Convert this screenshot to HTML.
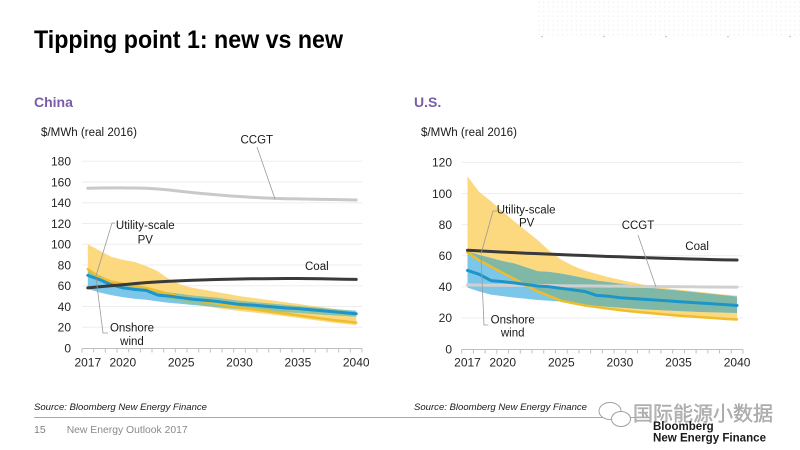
<!DOCTYPE html>
<html><head><meta charset="utf-8"><style>
html,body{margin:0;padding:0;background:#fff;}
svg{display:block;}
text{font-family:"Liberation Sans",Arial,sans-serif;}
</style></head><body>
<svg width="800" height="450" viewBox="0 0 800 450" xmlns="http://www.w3.org/2000/svg">
<defs>
<pattern id="dots" width="4.65" height="4.65" patternUnits="userSpaceOnUse" x="537" y="0">
<rect x="1.6" y="1.6" width="1" height="1" fill="#e4e4e4"/>
</pattern>
<clipPath id="clipYC"><path d="M0,100 L1,94 2,88 3,85 4,83 5,79 6,74 7,66 8,61 9,58 10,56 11,54 12,52 13,50 14,48.5 15,47 16,45.5 17,44 18,42.5 19,41 20,39.5 21,38 22,36.5 23,35 L23,22 22,23.3 21,24.5 20,26 19,27.5 18,29 17,30.5 16,32 15,33.3 14,34.5 13,35.5 12,37 11,38.5 10,40.5 9,42.5 8,44.5 7,47 6,50 5,54 4,57 3,59.5 2,61.5 1,65 0,72 Z"/></clipPath>
<clipPath id="clipYU"><path d="M0,111 L1,101 2,95 3,88.5 4,82 5,76 6,70 7,63 8,57.5 9,53.5 10,50.5 11,48.3 12,46.3 13,44.5 14,43 15,41.5 16,40 17,39 18,38.2 19,37.4 20,36.6 21,35.8 22,35 23,34.3 L23,18.5 22,18.9 21,19.4 20,19.9 19,20.5 18,21 17,21.6 16,22.3 15,23 14,23.7 13,24.5 12,25.5 11,26.5 10,27.5 9,29 8,30.5 7,33.5 6,36.5 5,40.5 4,44.5 3,48.5 2,52.5 1,56.5 0,61.5 Z"/></clipPath>
</defs>

<!-- top-right dot pattern -->
<rect x="537" y="0" width="263" height="38" fill="url(#dots)"/>
<g fill="#b5b5b5">
<circle cx="542" cy="36.5" r="0.8"/><circle cx="604" cy="36.5" r="0.8"/><circle cx="666" cy="36.5" r="0.8"/><circle cx="728" cy="36.5" r="0.8"/><circle cx="790" cy="36.5" r="0.8"/>
</g>

<!-- Title -->
<text x="34" y="48" font-size="25" font-weight="bold" fill="#000" textLength="309" lengthAdjust="spacingAndGlyphs">Tipping point 1: new vs new</text>

<text x="34" y="107" font-size="14" font-weight="bold" fill="#7a5ca8">China</text>
<text x="414" y="107" font-size="14" font-weight="bold" fill="#7a5ca8">U.S.</text>

<text x="41" y="136" font-size="11.5" fill="#1a1a1a" textLength="96" lengthAdjust="spacingAndGlyphs">$/MWh (real 2016)</text>
<text x="421" y="136" font-size="11.5" fill="#1a1a1a" textLength="96" lengthAdjust="spacingAndGlyphs">$/MWh (real 2016)</text>

<!-- ================= CHINA ================= -->
<g stroke="#ededed" stroke-width="1">
<path d="M82,327.25H362M82,306.5H362M82,285.75H362M82,265H362M82,244.25H362M82,223.5H362M82,202.75H362M82,182H362M82,161.25H362"/>
</g>
<g font-size="12" fill="#262626" text-anchor="end">
<text x="71" y="352.5">0</text><text x="71" y="331.6">20</text><text x="71" y="310.8">40</text><text x="71" y="290">60</text><text x="71" y="269.3">80</text><text x="71" y="248.5">100</text><text x="71" y="227.8">120</text><text x="71" y="207">140</text><text x="71" y="186.3">160</text><text x="71" y="165.5">180</text>
</g>
<g font-size="12" fill="#262626" text-anchor="middle">
<text x="87.8" y="366.5">2017</text><text x="122.8" y="366.5">2020</text><text x="181.2" y="366.5">2025</text><text x="239.5" y="366.5">2030</text><text x="297.9" y="366.5">2035</text><text x="356.2" y="366.5">2040</text>
</g>
<g transform="translate(87.8,348) scale(11.67,-1.0375)">
<path fill="#fcd87e" d="M0,100 L1,94 2,88 3,85 4,83 5,79 6,74 7,66 8,61 9,58 10,56 11,54 12,52 13,50 14,48.5 15,47 16,45.5 17,44 18,42.5 19,41 20,39.5 21,38 22,36.5 23,35 L23,22 22,23.3 21,24.5 20,26 19,27.5 18,29 17,30.5 16,32 15,33.3 14,34.5 13,35.5 12,37 11,38.5 10,40.5 9,42.5 8,44.5 7,47 6,50 5,54 4,57 3,59.5 2,61.5 1,65 0,72 Z"/>
<path fill="#7cc6ea" d="M0,74 L1,70 2,65 3,62 4,60 5,59 6,55 7,53.5 8,52 9,50.5 10,49.5 11,48.5 12,47 13,45.5 14,44.5 15,43.5 16,42.5 17,41.5 18,40.5 19,39.5 20,38.5 21,37.5 22,36.7 23,36 L23,30.3 22,31 21,31.6 20,32.3 19,33 18,33.8 17,34.5 16,35.2 15,36 14,36.7 13,37.5 12,38.5 11,39.5 10,40.5 9,41.5 8,42.5 7,43.5 6,45 5,46.5 4,47.5 3,49 2,51 1,53.5 0,57 Z"/>
<path fill="#93c2a0" clip-path="url(#clipYC)" d="M0,74 L1,70 2,65 3,62 4,60 5,59 6,55 7,53.5 8,52 9,50.5 10,49.5 11,48.5 12,47 13,45.5 14,44.5 15,43.5 16,42.5 17,41.5 18,40.5 19,39.5 20,38.5 21,37.5 22,36.7 23,36 L23,30.3 22,31 21,31.6 20,32.3 19,33 18,33.8 17,34.5 16,35.2 15,36 14,36.7 13,37.5 12,38.5 11,39.5 10,40.5 9,41.5 8,42.5 7,43.5 6,45 5,46.5 4,47.5 3,49 2,51 1,53.5 0,57 Z"/>
<g fill="none" stroke-linejoin="round" stroke-linecap="round">
<path vector-effect="non-scaling-stroke" stroke="#c9c9c9" stroke-width="3" d="M0,154 L1,154.2 2,154.3 3,154.3 4,154.2 5,154 6,153.3 7,152.3 8,151 9,149.8 10,148.7 11,147.7 12,146.8 13,146 14,145.3 15,144.7 16,144.2 17,143.9 18,143.7 19,143.5 20,143.3 21,143.1 22,142.9 23,142.7"/>
<path vector-effect="non-scaling-stroke" stroke="#eebd2c" stroke-width="2.5" d="M0,76 L1,68 2,64 3,62 4,60 5,58 6,55 7,52 8,49 9,47 10,45 11,43 12,41 13,39 14,37.5 15,36 16,34.5 17,33 18,31.5 19,30 20,28.5 21,27 22,25.8 23,24.5"/>
<path vector-effect="non-scaling-stroke" stroke="#1c96c8" stroke-width="3" d="M0,70 L1,66 2,61 3,58 4,56.5 5,55.5 6,51 7,50 8,48.5 9,47 10,46 11,45 12,43.5 13,42 14,41.5 15,40.5 16,39.5 17,38.5 18,38 19,37 20,36 21,35 22,34 23,33"/>
<path vector-effect="non-scaling-stroke" stroke="#3a3a3a" stroke-width="3" d="M0,58 L1,59 2,60 3,61 4,62 5,63 6,63.7 7,64.3 8,64.8 9,65.3 10,65.7 11,66 12,66.3 13,66.5 14,66.7 15,66.8 16,66.9 17,67 18,67 19,66.9 20,66.7 21,66.5 22,66.3 23,66.1"/>
</g>
</g>
<path stroke="#bfbfbf" stroke-width="1" fill="none" d="M82,348.5H362"/>
<path stroke="#bfbfbf" stroke-width="1" fill="none" d="M82,348.5V352.5M93.67,348.5V352.5M105.33,348.5V352.5M117,348.5V352.5M128.67,348.5V352.5M140.33,348.5V352.5M152,348.5V352.5M163.67,348.5V352.5M175.33,348.5V352.5M187,348.5V352.5M198.67,348.5V352.5M210.33,348.5V352.5M222,348.5V352.5M233.67,348.5V352.5M245.33,348.5V352.5M257,348.5V352.5M268.67,348.5V352.5M280.33,348.5V352.5M292,348.5V352.5M303.67,348.5V352.5M315.33,348.5V352.5M327,348.5V352.5M338.67,348.5V352.5M350.33,348.5V352.5M362,348.5V352.5"/>
<!-- China labels & leaders -->
<g stroke="#9a9a9a" stroke-width="0.8" fill="none">
<path d="M115,223H112L96,276"/>
<path d="M96,278L103,333H108"/>
<path d="M257,147L275,199"/>
</g>
<g font-size="11.5" fill="#1a1a1a">
<text x="145.3" y="229.2" text-anchor="middle">Utility-scale</text>
<text x="145.3" y="243.3" text-anchor="middle">PV</text>
<text x="132" y="331.7" text-anchor="middle">Onshore</text>
<text x="132" y="345" text-anchor="middle">wind</text>
<text x="305" y="270">Coal</text>
<text x="240.5" y="143.3">CCGT</text>
</g>

<!-- ================= US ================= -->
<g stroke="#ededed" stroke-width="1">
<path d="M461.7,317.9H743M461.7,286.8H743M461.7,255.7H743M461.7,224.6H743M461.7,193.5H743M461.7,162.4H743"/>
</g>
<g font-size="12" fill="#262626" text-anchor="end">
<text x="452" y="353.3">0</text><text x="452" y="322.2">20</text><text x="452" y="291.1">40</text><text x="452" y="260">60</text><text x="452" y="228.9">80</text><text x="452" y="197.8">100</text><text x="452" y="166.7">120</text>
</g>
<g font-size="12" fill="#262626" text-anchor="middle">
<text x="467.5" y="366.5">2017</text><text x="502.7" y="366.5">2020</text><text x="561.3" y="366.5">2025</text><text x="619.9" y="366.5">2030</text><text x="678.5" y="366.5">2035</text><text x="737.1" y="366.5">2040</text>
</g>
<g transform="translate(467.5,349) scale(11.72,-1.555)">
<path fill="#fcd87e" d="M0,111 L1,101 2,95 3,88.5 4,82 5,76 6,70 7,63 8,57.5 9,53.5 10,50.5 11,48.3 12,46.3 13,44.5 14,43 15,41.5 16,40 17,39 18,38.2 19,37.4 20,36.6 21,35.8 22,35 23,34.3 L23,18.5 22,18.9 21,19.4 20,19.9 19,20.5 18,21 17,21.6 16,22.3 15,23 14,23.7 13,24.5 12,25.5 11,26.5 10,27.5 9,29 8,30.5 7,33.5 6,36.5 5,40.5 4,44.5 3,48.5 2,52.5 1,56.5 0,61.5 Z"/>
<path fill="#7cc6ea" d="M0,62.6 L1,60.5 2,58.5 3,56.5 4,55 5,52.5 6,50 7,49.5 8,48.5 9,47 10,45.5 11,44 12,43 13,42 14,41 15,40 16,39 17,38.3 18,37.5 19,36.8 20,36 21,35.2 22,34.5 23,33.7 L23,23.2 22,23.4 21,23.6 20,23.8 19,24.1 18,24.4 17,24.8 16,25.2 15,25.6 14,26.1 13,26.6 12,27.2 11,27.8 10,28.5 9,29.5 8,30.5 7,31 6,31.5 5,32.3 4,33 3,34 2,35 1,37 0,39.5 Z"/>
<path fill="#80b8a8" clip-path="url(#clipYU)" d="M0,62.6 L1,60.5 2,58.5 3,56.5 4,55 5,52.5 6,50 7,49.5 8,48.5 9,47 10,45.5 11,44 12,43 13,42 14,41 15,40 16,39 17,38.3 18,37.5 19,36.8 20,36 21,35.2 22,34.5 23,33.7 L23,23.2 22,23.4 21,23.6 20,23.8 19,24.1 18,24.4 17,24.8 16,25.2 15,25.6 14,26.1 13,26.6 12,27.2 11,27.8 10,28.5 9,29.5 8,30.5 7,31 6,31.5 5,32.3 4,33 3,34 2,35 1,37 0,39.5 Z"/>
<g fill="none" stroke-linejoin="round" stroke-linecap="round">
<path vector-effect="non-scaling-stroke" stroke="#d0d0d0" stroke-width="3" d="M0,41.2 L1,41.1 2,41 3,41 4,40.9 5,40.9 6,40.8 7,40.8 8,40.7 9,40.6 10,40.6 11,40.5 12,40.4 13,40.4 14,40.3 15,40.2 16,40.1 17,40.1 18,40 19,40 20,39.9 21,39.9 22,39.8 23,39.8"/>
<path vector-effect="non-scaling-stroke" stroke="#eebd2c" stroke-width="2.5" d="M0,62 L1,57 2,53 3,49 4,45 5,41 6,37 7,34 8,31 9,29.5 10,28 11,27 12,26 13,25 14,24.2 15,23.5 16,22.8 17,22.1 18,21.5 19,21 20,20.4 21,19.9 22,19.4 23,19"/>
<path vector-effect="non-scaling-stroke" stroke="#1c96c8" stroke-width="3" d="M0,50.5 L1,48 2,44 3,43.3 4,42.5 5,41.5 6,40.5 7,40 8,39 9,38 10,37 11,34.5 12,34 13,33 14,32.5 15,32 16,31.5 17,31 18,30.5 19,30 20,29.5 21,29 22,28.5 23,28"/>
<path vector-effect="non-scaling-stroke" stroke="#3a3a3a" stroke-width="3" d="M0,63.5 L1,63.1 2,62.7 3,62.3 4,62 5,61.6 6,61.3 7,61 8,60.7 9,60.4 10,60.1 11,59.8 12,59.5 13,59.3 14,59 15,58.8 16,58.5 17,58.3 18,58.1 19,57.9 20,57.7 21,57.5 22,57.3 23,57.2"/>
</g>
</g>
<path stroke="#bfbfbf" stroke-width="1" fill="none" d="M461.7,349.5H743"/>
<path stroke="#bfbfbf" stroke-width="1" fill="none" d="M461.7,349.5V353.5M473.42,349.5V353.5M485.14,349.5V353.5M496.86,349.5V353.5M508.58,349.5V353.5M520.3,349.5V353.5M532.02,349.5V353.5M543.74,349.5V353.5M555.46,349.5V353.5M567.18,349.5V353.5M578.9,349.5V353.5M590.62,349.5V353.5M602.34,349.5V353.5M614.06,349.5V353.5M625.78,349.5V353.5M637.5,349.5V353.5M649.22,349.5V353.5M660.94,349.5V353.5M672.66,349.5V353.5M684.38,349.5V353.5M696.1,349.5V353.5M707.82,349.5V353.5M719.54,349.5V353.5M731.26,349.5V353.5M743,349.5V353.5"/>
<g stroke="#9a9a9a" stroke-width="0.8" fill="none">
<path d="M497,211H493L481,254"/>
<path d="M481,257L484,325H488"/>
<path d="M638,235L656,287"/>
</g>
<g font-size="11.5" fill="#1a1a1a">
<text x="526.2" y="213.3" text-anchor="middle">Utility-scale</text>
<text x="526.7" y="226.7" text-anchor="middle">PV</text>
<text x="512.7" y="323.3" text-anchor="middle">Onshore</text>
<text x="512.7" y="336.7" text-anchor="middle">wind</text>
<text x="685.3" y="250">Coal</text>
<text x="621.7" y="229">CCGT</text>
</g>

<!-- Footer -->
<text x="34" y="410" font-size="9.5" font-style="italic" fill="#1a1a1a" textLength="173" lengthAdjust="spacingAndGlyphs">Source: Bloomberg New Energy Finance</text>
<text x="414" y="410" font-size="9.5" font-style="italic" fill="#1a1a1a" textLength="173" lengthAdjust="spacingAndGlyphs">Source: Bloomberg New Energy Finance</text>
<path d="M34,417.5H650" stroke="#a8a8a8" stroke-width="1"/>
<text x="34" y="433" font-size="10.5" fill="#7f7f7f">15</text>
<text x="66.7" y="433" font-size="10.5" fill="#8a8a8a" textLength="121" lengthAdjust="spacingAndGlyphs">New Energy Outlook 2017</text>

<!-- watermark -->
<g fill="#fff" stroke="#a0a0a0" stroke-width="1">
<ellipse cx="610" cy="411" rx="11" ry="8.5"/>
<ellipse cx="621" cy="419" rx="9.5" ry="7.5"/>
</g>
<text x="633" y="420.5" font-size="20" fill="#b4b4b4" stroke="#8c8c8c" stroke-width="0.3" style="font-family:'Liberation Sans','Noto Sans CJK SC',sans-serif">国际能源小数据</text>

<text x="653" y="430" font-size="11.5" font-weight="bold" fill="#1a1a1a">Bloomberg</text>
<text x="653" y="441.5" font-size="11.5" font-weight="bold" fill="#1a1a1a" textLength="113" lengthAdjust="spacingAndGlyphs">New Energy Finance</text>
</svg>
</body></html>
